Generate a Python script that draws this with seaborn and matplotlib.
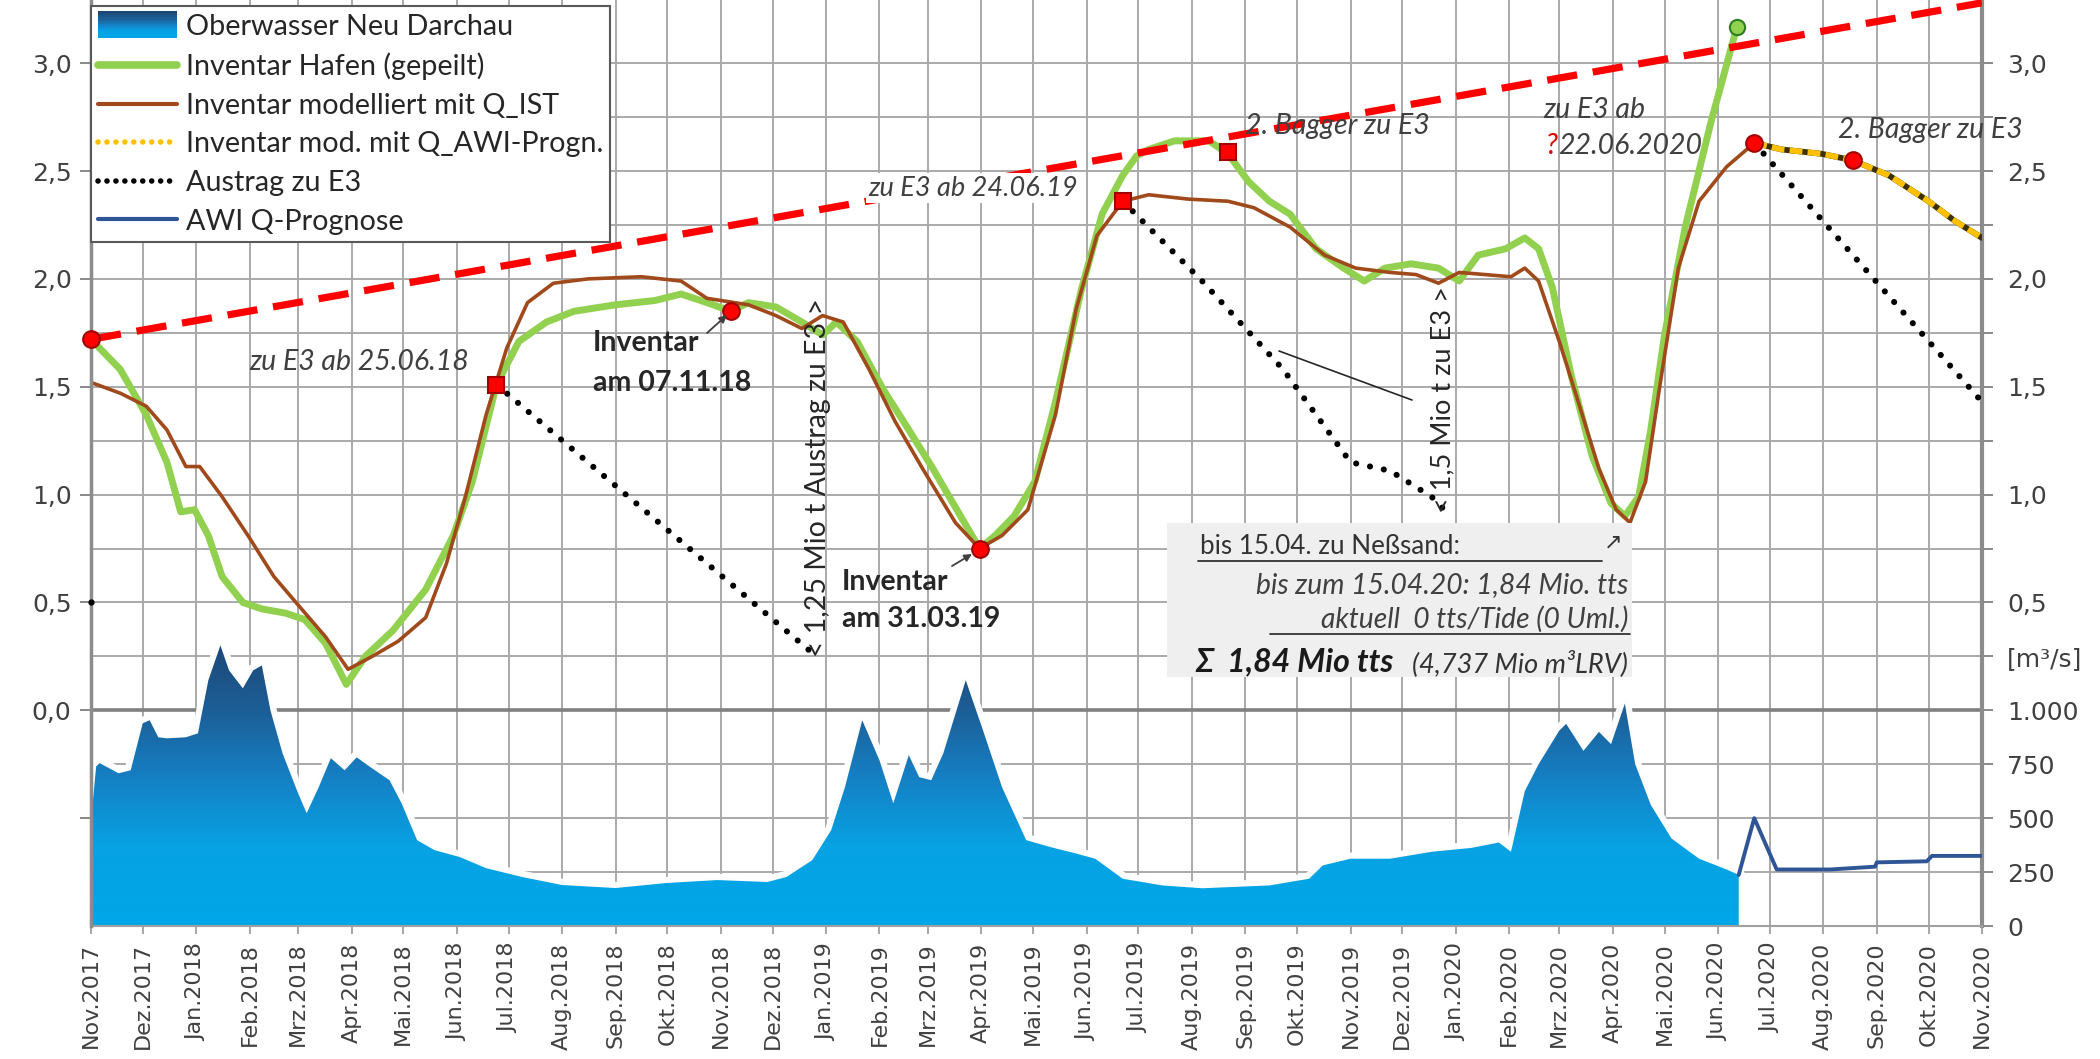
import numpy as np
import pandas as pd
import matplotlib
matplotlib.use("Agg")
import matplotlib.pyplot as plt
import seaborn as sns
import matplotlib.dates as mdates
from matplotlib.colors import LinearSegmentedColormap
from matplotlib.patches import Rectangle
from matplotlib.lines import Line2D
from matplotlib.legend_handler import HandlerBase

sns.set_theme(style="white")
plt.rcParams["font.family"] = ["DejaVu Sans"]
TXT = ["Lato", "DejaVu Sans"]

# ---------------- data ----------------
month_ticks = pd.date_range("2017-11-01", "2020-11-01", freq="MS")
month_labels = ["Nov.2017", "Dez.2017", "Jan.2018", "Feb.2018", "Mrz.2018", "Apr.2018",
                "Mai.2018", "Jun.2018", "Jul.2018", "Aug.2018", "Sep.2018", "Okt.2018",
                "Nov.2018", "Dez.2018", "Jan.2019", "Feb.2019", "Mrz.2019", "Apr.2019",
                "Mai.2019", "Jun.2019", "Jul.2019", "Aug.2019", "Sep.2019", "Okt.2019",
                "Nov.2019", "Dez.2019", "Jan.2020", "Feb.2020", "Mrz.2020", "Apr.2020",
                "Mai.2020", "Jun.2020", "Jul.2020", "Aug.2020", "Sep.2020", "Okt.2020",
                "Nov.2020"]

left_ticks = [-0.5, 0.0, 0.5, 1.0, 1.5, 2.0, 2.5, 3.0]
left_labels = ["", "0,0", "0,5", "1,0", "1,5", "2,0", "2,5", "3,0"]
right_ticks = [0, 250, 500, 750, 1000, 1250, 1500, 1750, 2000, 2250, 2500, 2750,
               3000, 3250, 3500, 3750, 4000]
right_labels = ["0", "250", "500", "750", "1.000", "[m³/s]", "0,5", "", "1,0", "",
                "1,5", "", "2,0", "", "2,5", "", "3,0"]

green_dates = ["2017-11-01", "2017-11-18", "2017-12-03", "2017-12-15", "2017-12-23",
               "2017-12-31", "2018-01-08", "2018-01-16", "2018-01-28", "2018-02-08",
               "2018-02-22", "2018-03-05", "2018-03-17", "2018-03-29", "2018-04-09",
               "2018-04-25", "2018-05-14", "2018-05-30", "2018-06-10", "2018-06-24",
               "2018-07-07", "2018-07-23", "2018-08-08", "2018-09-01", "2018-09-24",
               "2018-10-09", "2018-10-24", "2018-11-07", "2018-11-17", "2018-12-03",
               "2018-12-18", "2018-12-30", "2019-01-07", "2019-01-19", "2019-02-03",
               "2019-02-18", "2019-03-04", "2019-03-20", "2019-03-31", "2019-04-09",
               "2019-04-20", "2019-05-02", "2019-05-14", "2019-05-29", "2019-06-10",
               "2019-06-22", "2019-06-30", "2019-07-07", "2019-07-22", "2019-08-11",
               "2019-08-22", "2019-09-03", "2019-09-15", "2019-09-27", "2019-10-12",
               "2019-10-28", "2019-11-09", "2019-11-21", "2019-12-06", "2019-12-22",
               "2020-01-03", "2020-01-14", "2020-01-30", "2020-02-10", "2020-02-18",
               "2020-02-26", "2020-03-08", "2020-03-20", "2020-03-31", "2020-04-08",
               "2020-04-16", "2020-04-23", "2020-05-01", "2020-05-13", "2020-05-28",
               "2020-06-12"]
green_vals = [1.72, 1.58, 1.37, 1.15, 0.92, 0.93, 0.81, 0.62, 0.50, 0.47,
              0.45, 0.42, 0.31, 0.12, 0.25, 0.37, 0.56, 0.81, 1.06, 1.51,
              1.71, 1.80, 1.85, 1.88, 1.90, 1.93, 1.89, 1.85, 1.89, 1.87,
              1.80, 1.74, 1.80, 1.71, 1.49, 1.30, 1.12, 0.90, 0.75, 0.81,
              0.90, 1.06, 1.43, 1.95, 2.30, 2.48, 2.57, 2.60, 2.64, 2.64,
              2.58, 2.45, 2.36, 2.30, 2.14, 2.05, 1.99, 2.05, 2.07, 2.05,
              1.99, 2.11, 2.14, 2.19, 2.14, 1.96, 1.55, 1.18, 0.96, 0.90,
              0.99, 1.30, 1.74, 2.24, 2.73, 3.17]

brown_dates = ["2017-11-01", "2017-11-18", "2017-12-03", "2017-12-15", "2017-12-26",
               "2018-01-03", "2018-01-16", "2018-01-31", "2018-02-15", "2018-03-03",
               "2018-03-17", "2018-03-30", "2018-04-13", "2018-04-28", "2018-05-14",
               "2018-05-26", "2018-06-06", "2018-06-18", "2018-06-30", "2018-07-12",
               "2018-07-27", "2018-08-16", "2018-09-16", "2018-10-09", "2018-10-24",
               "2018-11-17", "2018-12-03", "2018-12-18", "2018-12-30", "2019-01-11",
               "2019-01-26", "2019-02-10", "2019-02-26", "2019-03-17", "2019-03-31",
               "2019-04-13", "2019-04-28", "2019-05-14", "2019-05-26", "2019-06-07",
               "2019-06-22", "2019-07-07", "2019-07-30", "2019-08-22", "2019-09-06",
               "2019-09-27", "2019-10-17", "2019-11-04", "2019-11-24", "2019-12-09",
               "2019-12-22", "2020-01-03", "2020-01-18", "2020-02-02", "2020-02-10",
               "2020-02-18", "2020-03-01", "2020-03-12", "2020-03-24", "2020-04-03",
               "2020-04-11", "2020-04-20", "2020-04-28", "2020-05-09", "2020-05-21",
               "2020-06-06", "2020-06-22"]
brown_vals = [1.52, 1.47, 1.41, 1.30, 1.13, 1.13, 0.99, 0.81, 0.62, 0.47,
              0.34, 0.19, 0.25, 0.32, 0.43, 0.68, 0.99, 1.37, 1.68, 1.89,
              1.98, 2.00, 2.01, 1.99, 1.91, 1.88, 1.83, 1.77, 1.83, 1.80,
              1.58, 1.34, 1.12, 0.87, 0.75, 0.81, 0.93, 1.37, 1.86, 2.20,
              2.36, 2.39, 2.37, 2.36, 2.33, 2.24, 2.11, 2.05, 2.03, 2.02,
              1.98, 2.03, 2.02, 2.01, 2.05, 1.99, 1.71, 1.43, 1.12, 0.93,
              0.87, 1.06, 1.49, 2.05, 2.36, 2.52, 2.63]

awi_inv_dates = ["2020-06-22", "2020-07-08", "2020-07-31", "2020-08-18", "2020-09-08",
                 "2020-10-01", "2020-10-16", "2020-11-01"]
awi_inv_vals = [2.63, 2.60, 2.58, 2.55, 2.48, 2.36, 2.27, 2.19]

austrag1_dates = ["2018-06-24", "2018-12-22"]
austrag1_vals = [1.51, 0.28]
austrag2_dates = ["2019-06-22", "2019-08-07", "2019-09-23", "2019-11-01", "2019-11-24",
                  "2019-12-18", "2019-12-29"]
austrag2_vals = [2.36, 1.99, 1.58, 1.15, 1.11, 0.99, 0.90]
austrag3_dates = ["2020-06-22", "2020-11-01"]
austrag3_vals = [2.63, 1.43]

trend_dates = ["2017-11-01", "2020-11-01"]
trend_vals = [1.72, 3.28]

flow_dates = ["2017-11-01", "2017-11-04", "2017-11-06", "2017-11-17", "2017-11-24",
              "2017-12-01", "2017-12-05", "2017-12-10", "2017-12-15", "2017-12-26",
              "2018-01-02", "2018-01-08", "2018-01-15", "2018-01-20", "2018-01-28",
              "2018-02-03", "2018-02-08", "2018-02-13", "2018-02-20", "2018-03-01",
              "2018-03-06", "2018-03-13", "2018-03-20", "2018-03-28", "2018-04-04",
              "2018-04-12", "2018-04-23", "2018-04-30", "2018-05-09", "2018-05-19",
              "2018-06-03", "2018-06-18", "2018-07-09", "2018-08-01", "2018-09-01",
              "2018-09-30", "2018-10-30", "2018-11-28", "2018-12-09", "2018-12-24",
              "2019-01-04", "2019-01-12", "2019-01-22", "2019-02-01", "2019-02-09",
              "2019-02-18", "2019-02-24", "2019-03-03", "2019-03-10", "2019-03-23",
              "2019-04-02", "2019-04-13", "2019-04-27", "2019-05-11", "2019-05-25",
              "2019-06-06", "2019-06-22", "2019-07-15", "2019-08-07", "2019-09-15",
              "2019-10-08", "2019-10-16", "2019-11-01", "2019-11-24", "2019-12-18",
              "2020-01-10", "2020-01-26", "2020-02-02", "2020-02-10", "2020-02-18",
              "2020-03-01", "2020-03-05", "2020-03-15", "2020-03-24", "2020-03-31",
              "2020-04-08", "2020-04-14", "2020-04-23", "2020-05-05", "2020-05-21",
              "2020-06-06", "2020-06-13"]
flow_vals = [490, 740, 755, 708, 722, 940, 954, 875, 870, 875,
             893, 1139, 1301, 1185, 1102, 1185, 1208, 1000, 801, 616,
             523, 644, 778, 722, 782, 736, 676, 569, 398, 352,
             319, 268, 227, 190, 176, 199, 213, 204, 227, 305,
             444, 644, 954, 768, 569, 792, 690, 676, 801, 1139,
             907, 644, 398, 366, 338, 312, 219, 188, 175, 188,
             219, 281, 312, 312, 344, 362, 387, 344, 625, 750,
             906, 937, 812, 900, 843, 1031, 750, 562, 406, 312,
             262, 237]

awi_q_dates = ["2020-06-13", "2020-06-22", "2020-07-05", "2020-08-05", "2020-08-31",
               "2020-09-01", "2020-09-30", "2020-10-03", "2020-11-01"]
awi_q_vals = [237, 500, 262, 262, 275, 295, 300, 325, 325]

red_circle_dates = ["2017-11-01", "2018-11-07", "2019-03-31", "2020-06-22", "2020-08-18"]
red_circle_vals = [1.72, 1.85, 0.75, 2.63, 2.55]
red_square_dates = ["2018-06-24", "2019-06-22", "2019-08-22"]
red_square_vals = [1.51, 2.36, 2.59]
green_point_dates = ["2020-06-12"]
green_point_vals = [3.17]
start_dot_dates = ["2017-11-01"]
start_dot_vals = [0.5]

# ---------------- figure ----------------
W, H = 2100, 1059
fig = plt.figure(figsize=(W / 100, H / 100), dpi=100, facecolor="white")
ax1 = fig.add_axes([91 / W, 1 - 926 / H, (1982 - 91) / W, 926 / H])
ax2 = ax1.twinx()
ax1.set_zorder(2)
ax2.set_zorder(1)
ax1.patch.set_visible(False)
ax2.xaxis.set_visible(True)

D = pd.to_datetime
x_start, x_end = D("2017-11-01"), D("2020-11-01")

# ---- flow (ax2) with gradient fill ----
cmap = LinearSegmentedColormap.from_list(
    "flow", [(0.0, "#00a7e8"), (0.28, "#07a2e3"), (0.52, "#1580c4"),
             (0.75, "#1c5f98"), (1.0, "#1c4775")])
fx_num = mdates.date2num(D(flow_dates))
ax2.set_axisbelow(True)
ax2.plot(D(flow_dates), flow_vals, color="white", lw=9, alpha=0.95, zorder=1.2,
         solid_joinstyle="round")
ax2.plot(D(flow_dates), flow_vals, color="#c8c8c8", lw=4, alpha=0.35, zorder=1.1)
poly = ax2.fill_between(D(flow_dates), 0, flow_vals, color="none", lw=0)
grad = np.linspace(0, 1, 256).reshape(-1, 1)
im = ax2.imshow(grad, cmap=cmap, aspect="auto", origin="lower",
                extent=[fx_num[0], fx_num[-1], 0, 1320], zorder=2, interpolation="bilinear")
im.set_clip_path(poly.get_paths()[0], transform=ax2.transData)
sns.lineplot(x=D(awi_q_dates), y=awi_q_vals, ax=ax2, color="#2f5597", lw=2.8,
             estimator=None, sort=False, legend=False, zorder=3)
ax2.axhline(1000, color="#808080", lw=2.6, zorder=0.8)

# ---- inventory lines (ax1) ----
sns.lineplot(x=D(trend_dates), y=trend_vals, ax=ax1, color="#ff0000", lw=5.2,
             linestyle=(0, (4.2, 2.2)), estimator=None, sort=False, legend=False, zorder=2.6)
sns.lineplot(x=D(green_dates), y=green_vals, ax=ax1, color="#92d050", lw=5.0,
             estimator=None, sort=False, legend=False, zorder=2.1,
             solid_joinstyle="round", solid_capstyle="round")
sns.lineplot(x=D(brown_dates), y=brown_vals, ax=ax1, color="#a04a1c", lw=2.6,
             estimator=None, sort=False, legend=False, zorder=2.2)
sns.lineplot(x=D(awi_inv_dates), y=awi_inv_vals, ax=ax1, color="#3b3000", lw=4.2,
             estimator=None, sort=False, legend=False, zorder=2.3)
sns.lineplot(x=D(awi_inv_dates), y=awi_inv_vals, ax=ax1, color="#ffc000", lw=4.2,
             linestyle=(0, (2.2, 0.9)), estimator=None, sort=False, legend=False, zorder=2.35)
for dts, vals in [(austrag1_dates, austrag1_vals), (austrag2_dates, austrag2_vals),
                  (austrag3_dates, austrag3_vals)]:
    sns.lineplot(x=D(dts), y=vals, ax=ax1, color="black", lw=4.4,
                 linestyle=(0, (0.01, 2.3)), dash_capstyle="round",
                 estimator=None, sort=False, legend=False, zorder=2.4)

ax1.plot(D(red_circle_dates), red_circle_vals, "o", ms=12, mfc="#ff0000", mec="#a00000",
         mew=1.5, zorder=3, clip_on=False)
ax1.plot(D(red_square_dates), red_square_vals, "s", ms=12, mfc="#ff0000", mec="#a00000",
         mew=1.5, zorder=3, clip_on=False)
ax1.plot(D(green_point_dates), green_point_vals, "o", ms=11, mfc="#92d050", mec="#2e7d1e",
         mew=1.5, zorder=3, clip_on=False)
ax1.plot(D(start_dot_dates), start_dot_vals, "o", ms=3.5, color="black", zorder=3,
         clip_on=False)

# ---- axes / ticks ----
ax1.set_xlim(x_start, x_end)
ax2.set_xlim(x_start, x_end)
ax1.set_ylim(-1.0, 3.293)
ax2.set_ylim(0, 4293)
ax1.set_xticks(month_ticks)
ax1.set_xticklabels(month_labels, rotation=90, fontsize=16, color="#404040")
ax1.set_yticks(left_ticks)
ax1.set_yticklabels(left_labels, fontsize=18, color="#404040")
ax2.set_yticks(right_ticks)
ax2.set_yticklabels(right_labels, fontsize=18, color="#404040")
ax1.set_xlabel("")
ax1.set_ylabel("")
ax2.set_xlabel("")
ax2.set_ylabel("")
ax1.tick_params(axis="y", length=8, width=1.3, color="#808080", pad=6, left=True)
ax1.tick_params(axis="x", length=6, width=1.3, color="#a0a0a0", pad=6, bottom=True)
ax2.tick_params(axis="y", length=8, width=1.3, color="#808080", pad=10, right=True)
ax1.grid(False)
ax2.set_xticks(month_ticks)
ax2.tick_params(axis="x", bottom=False, labelbottom=False, top=False, labeltop=False)
ax2.grid(True, which="major", axis="both", color="#a9a9a9", lw=1.4)

for sp in ["top", "right", "bottom"]:
    ax1.spines[sp].set_visible(False)
ax1.spines["left"].set_color("#8c8c8c")
ax1.spines["left"].set_linewidth(2.5)
ax2.spines["top"].set_visible(False)
ax2.spines["left"].set_visible(False)
ax2.spines["right"].set_color("#8c8c8c")
ax2.spines["right"].set_linewidth(3)
ax2.spines["bottom"].set_color("#a0a0a0")
ax2.spines["bottom"].set_linewidth(1.5)


# ---- legend ----
class GradHandler(HandlerBase):
    def create_artists(self, legend, orig, xd, yd, w, h, fs, trans):
        arts = []
        n = 12
        y0 = yd - 0.15 * h
        hh = h * 1.3
        for i in range(n):
            c = cmap(1.0 - i / (n - 1) * 0.9)
            r = Rectangle((xd, y0 + hh * (1 - (i + 1) / n)), w, hh / n + 0.5,
                          facecolor=c, edgecolor="none", transform=trans)
            arts.append(r)
        return arts


h_flow = Rectangle((0, 0), 1, 1)
handles = [h_flow,
           Line2D([], [], color="#92d050", lw=5.5, solid_capstyle="round"),
           Line2D([], [], color="#a04a1c", lw=3),
           Line2D([], [], color="#ffc000", lw=4, linestyle=(0, (0.01, 1.6)),
                  dash_capstyle="round"),
           Line2D([], [], color="black", lw=4, linestyle=(0, (0.01, 1.6)),
                  dash_capstyle="round"),
           Line2D([], [], color="#2f5597", lw=3)]
labels = ["Oberwasser Neu Darchau", "Inventar Hafen (gepeilt)",
          "Inventar modelliert mit Q_IST", "Inventar mod. mit Q_AWI-Progn.",
          "Austrag zu E3", "AWI Q-Prognose"]
leg = ax1.legend(handles, labels, loc="upper left", bbox_to_anchor=(0.0, 0.993),
                 borderaxespad=0, frameon=True, fancybox=False, framealpha=1,
                 edgecolor="#595959", prop={"family": TXT, "size": 20.7},
                 handlelength=2.75, handletextpad=0.3, labelspacing=0.44,
                 borderpad=0.25, handler_map={h_flow: GradHandler()})
leg.get_frame().set_linewidth(1.5)
for t in leg.get_texts():
    t.set_color("#262626")
leg.set_zorder(5)


# ---- annotations (figure-pixel positions) ----
def ftext(px, py, s, **kw):
    kw.setdefault("family", TXT)
    kw.setdefault("va", "center")
    kw.setdefault("ha", "left")
    return ax1.text(px / W, 1 - py / H, s, transform=fig.transFigure, clip_on=False,
                    zorder=6, **kw)


def fline(x0, y0, x1, y1, **kw):
    ln = Line2D([x0 / W, x1 / W], [1 - y0 / H, 1 - y1 / H], transform=fig.transFigure,
                clip_on=False, zorder=6, **kw)
    ax1.add_line(ln)


def farrow(x0, y0, x1, y1):
    ax1.annotate("", xy=(x1 / W, 1 - y1 / H), xytext=(x0 / W, 1 - y0 / H),
                 xycoords="figure fraction", textcoords="figure fraction",
                 arrowprops=dict(arrowstyle="-|>", color="#404040", lw=1.3,
                                 mutation_scale=11, shrinkA=0, shrinkB=0), zorder=6)


IT = 20.5
ftext(249, 362, "zu E3 ab 25.06.18", style="italic", fontsize=IT, color="#404040")
ftext(593, 343, "Inventar", weight="bold", fontsize=20.5, color="#262626")
ftext(593, 383, "am 07.11.18", weight="bold", fontsize=20.5, color="#262626")
farrow(707, 333, 727, 315)
ftext(842, 582, "Inventar", weight="bold", fontsize=20.5, color="#262626")
ftext(842, 619, "am 31.03.19", weight="bold", fontsize=20.5, color="#262626")
farrow(952, 566, 972, 554)
ftext(818, 478, "< 1,25 Mio t Austrag zu E3 >", rotation=90, ha="center",
      fontsize=20.5, color="#262626")
ftext(1443, 400, "< 1,5 Mio t zu E3 >", rotation=90, ha="center", fontsize=19.5,
      color="#262626")
fline(1412, 400, 1279, 351, color="#262626", lw=1.2)
ftext(868, 188, "zu E3 ab 24.06.19", style="italic", fontsize=19.5, color="#404040",
      bbox=dict(facecolor="white", edgecolor="none", pad=1.5))
ftext(1245, 126, "2. Bagger zu E3", style="italic", fontsize=IT, color="#404040")
ftext(1543, 110, "zu E3 ab", style="italic", fontsize=IT, color="#404040")
ftext(1558, 146, "?", style="italic", fontsize=IT, color="#e00000", ha="right")
ftext(1558, 146, "22.06.2020", style="italic", fontsize=IT, color="#404040")
ftext(1838, 130, "2. Bagger zu E3", style="italic", fontsize=IT, color="#404040")

# info box
box = Rectangle((1167 / W, 1 - 677 / H), (1632 - 1167) / W, (677 - 523) / H,
                transform=fig.transFigure, facecolor="#efefef", edgecolor="none",
                clip_on=False, zorder=5.5)
ax1.add_patch(box)
ftext(1200, 546, "bis 15.04. zu Neßsand:", fontsize=18.7, color="#333333")
fline(1198, 561, 1602, 561, color="#333333", lw=1.3)
ftext(1604, 543, "↗", family=["DejaVu Sans"], fontsize=16, color="#333333")
ftext(1628, 585, "bis zum 15.04.20: 1,84 Mio. tts", style="italic", fontsize=20.3,
      color="#404040", ha="right")
ftext(1628, 619, "aktuell  0 tts/Tide (0 Uml.)", style="italic", fontsize=20.3,
      color="#404040", ha="right")
fline(1270, 634, 1630, 634, color="#333333", lw=1.3)
ftext(1195, 662, "Σ  1,84 Mio tts", style="italic", weight="bold", fontsize=23,
      color="#1a1a1a")
ftext(1628, 664, "(4,737 Mio m³LRV)", style="italic", fontsize=19.5, color="#333333",
      ha="right")

fig.savefig("out.png", dpi=100, facecolor="white")
